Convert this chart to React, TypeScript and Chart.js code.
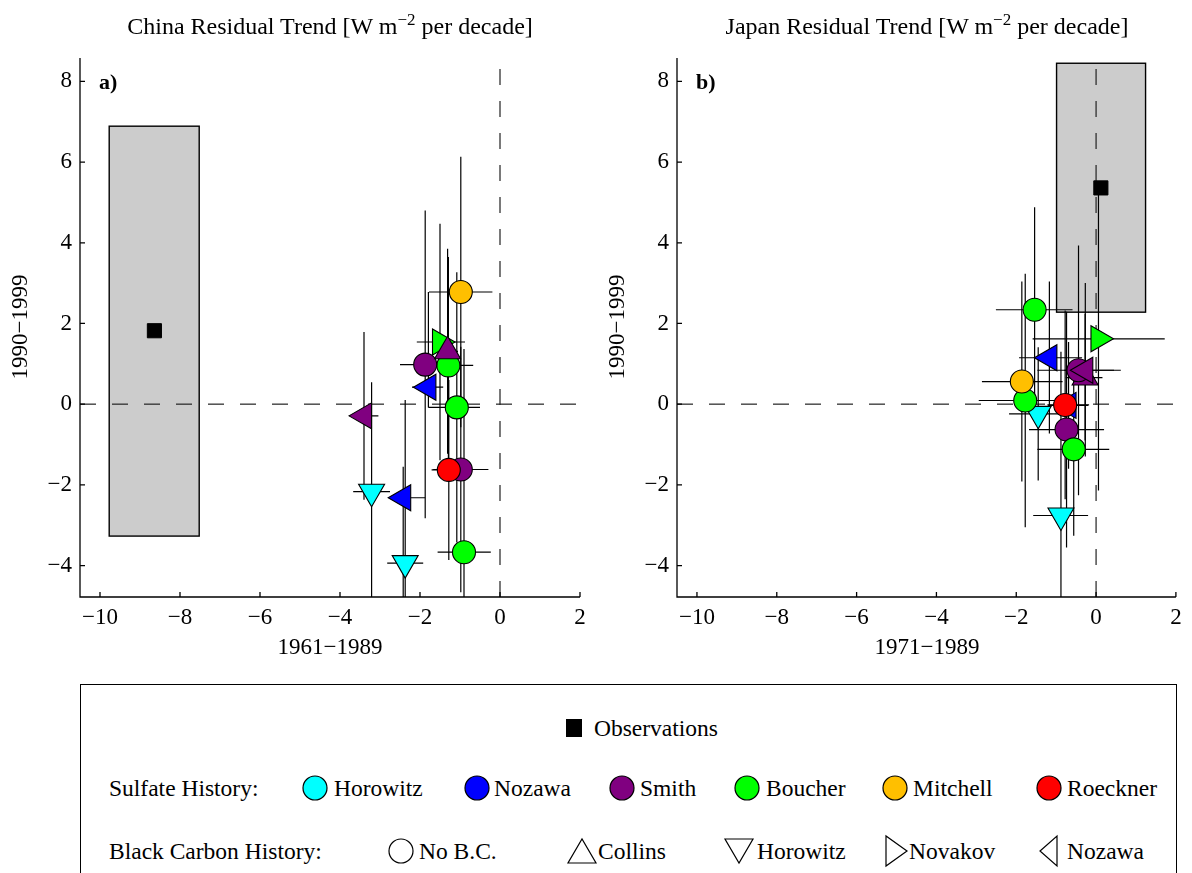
import React, { useEffect, useRef } from 'react';
import { Chart, registerables } from 'chart.js';

Chart.register(...registerables);

const FONT = "'Liberation Serif', 'Times New Roman', Times, serif";

// ---------- axes ----------
const xTickValues = [-10, -8, -6, -4, -2, 0, 2];
const yTickValues = [-4, -2, 0, 2, 4, 6, 8];
const xLimits = [-10.5, 2];
const yLimits = [-4.78, 8.58];

// ---------- legend categories ----------
const sulfateNames = ['Horowitz', 'Nozawa', 'Smith', 'Boucher', 'Mitchell', 'Roeckner'];
const blackCarbonNames = ['No B.C.', 'Collins', 'Horowitz', 'Novakov', 'Nozawa'];

// ---------- China (panel a) ----------
const chinaSulfate = ['Horowitz', 'Horowitz', 'Nozawa', 'Nozawa', 'Smith', 'Boucher', 'Boucher', 'Boucher', 'Boucher', 'Smith', 'Smith', 'Smith', 'Roeckner', 'Mitchell'];
const chinaBC = ['Horowitz', 'Horowitz', 'Nozawa', 'Nozawa', 'Nozawa', 'No B.C.', 'No B.C.', 'No B.C.', 'Novakov', 'No B.C.', 'Collins', 'No B.C.', 'No B.C.', 'No B.C.'];
const chinaX = [-3.21, -2.37, -2.42, -1.79, -3.40, -0.90, -1.08, -1.29, -1.50, -1.87, -1.31, -0.98, -1.28, -0.98];
const chinaY = [-2.17, -3.94, -2.32, 0.42, -0.29, -3.67, -0.08, 0.96, 1.54, 0.98, 1.31, -1.62, -1.63, 2.78];
const chinaXLo = [-3.67, -2.82, -2.75, -2.20, -3.76, -1.56, -1.79, -1.91, -2.08, -2.50, -1.60, -1.67, -1.71, -1.775];
const chinaXHi = [-2.75, -1.92, -1.87, -1.42, -3.04, -0.23, -0.50, -0.67, -0.875, -1.24, -1.05, -0.29, -0.85, -0.19];
const chinaYLo = [-4.90, -8.00, -5.00, -0.08, -2.37, -8.70, -3.43, -1.73, -1.39, -2.83, -1.23, -4.66, -3.86, -0.57];
const chinaYHi = [0.54, 0.10, -1.55, 2.78, 1.79, 1.37, 3.27, 3.65, 4.47, 4.80, 3.85, 1.42, 0.60, 6.13];
const chinaObs = [-8.64, 1.82];
const chinaObsRange = [-9.77, -7.52, -3.27, 6.89]; // xLo, xHi, yLo, yHi

// ---------- Japan (panel b) ----------
const japanSulfate = ['Horowitz', 'Horowitz', 'Nozawa', 'Nozawa', 'Boucher', 'Boucher', 'Mitchell', 'Smith', 'Boucher', 'Roeckner', 'Smith', 'Smith', 'Smith', 'Boucher'];
const japanBC = ['Horowitz', 'Horowitz', 'Nozawa', 'Nozawa', 'No B.C.', 'No B.C.', 'No B.C.', 'No B.C.', 'No B.C.', 'No B.C.', 'Collins', 'No B.C.', 'Nozawa', 'Novakov'];
const japanX = [-0.88, -1.45, -1.17, -0.69, -1.54, -1.775, -1.86, -0.74, -0.56, -0.775, -0.275, -0.44, -0.27, 0.06];
const japanY = [-2.76, -0.24, 1.15, -0.03, 2.34, 0.09, 0.56, -0.63, -1.12, -0.02, 0.66, 0.84, 0.84, 1.62];
const japanXLo = [-1.575, -2.18, -1.93, -1.20, -2.51, -2.94, -2.86, -1.68, -1.47, -1.22, -0.76, -1.47, -0.80, -1.59];
const japanXHi = [-0.20, -0.72, -0.35, -0.20, -0.59, -0.61, -0.84, 0.20, 0.33, -0.175, 0.16, 0.62, 0.45, 1.72];
const japanYLo = [-6.80, -1.89, -0.73, -1.60, -0.20, -3.05, -1.92, -3.55, -3.26, -2.36, -0.90, -2.26, -1.30, -2.14];
const japanYHi = [1.30, 1.41, 3.04, 1.54, 4.88, 3.23, 3.04, 2.29, 1.02, 2.32, 2.24, 3.93, 3.00, 5.40];
const japanObs = [0.12, 5.36];
const japanObsRange = [-0.99, 1.24, 2.28, 8.45];

// ---------- styles ----------
const sulfateColor: Record<string, string> = {
  Horowitz: '#00ffff',
  Nozawa: '#0000ff',
  Smith: '#800080',
  Boucher: '#00ff00',
  Mitchell: '#ffbf00',
  Roeckner: '#ff0000',
};
const bcMarker: Record<string, { style: string; rotation: number; radius: number }> = {
  'No B.C.': { style: 'circle', rotation: 0, radius: 11.5 },
  Collins: { style: 'triangle', rotation: 0, radius: 15 },
  Horowitz: { style: 'triangle', rotation: 180, radius: 15 },
  Novakov: { style: 'triangle', rotation: 90, radius: 15 },
  Nozawa: { style: 'triangle', rotation: 270, radius: 15 },
};

type PanelData = {
  sulfate: string[]; bc: string[]; x: number[]; y: number[];
  xLo: number[]; xHi: number[]; yLo: number[]; yHi: number[];
  obs: number[]; obsRange: number[];
};

const china: PanelData = { sulfate: chinaSulfate, bc: chinaBC, x: chinaX, y: chinaY, xLo: chinaXLo, xHi: chinaXHi, yLo: chinaYLo, yHi: chinaYHi, obs: chinaObs, obsRange: chinaObsRange };
const japan: PanelData = { sulfate: japanSulfate, bc: japanBC, x: japanX, y: japanY, xLo: japanXLo, xHi: japanXHi, yLo: japanYLo, yHi: japanYHi, obs: japanObs, obsRange: japanObsRange };

const fmt = (v: number) => (v < 0 ? '\u2212' + Math.abs(v) : String(v));

function makeConfig(d: PanelData, rightPad: number): any {
  const decor = {
    id: 'decor',
    beforeDatasetsDraw(chart: any) {
      const { ctx, chartArea: a } = chart;
      const sx = chart.scales.x;
      const sy = chart.scales.y;
      ctx.save();
      ctx.beginPath();
      ctx.rect(a.left, a.top, a.right - a.left, a.bottom - a.top);
      ctx.clip();
      // observation range box
      const bx0 = sx.getPixelForValue(d.obsRange[0]);
      const bx1 = sx.getPixelForValue(d.obsRange[1]);
      const by0 = sy.getPixelForValue(d.obsRange[2]);
      const by1 = sy.getPixelForValue(d.obsRange[3]);
      ctx.fillStyle = '#cccccc';
      ctx.fillRect(bx0, by1, bx1 - bx0, by0 - by1);
      ctx.strokeStyle = '#000';
      ctx.lineWidth = 1.4;
      ctx.strokeRect(bx0, by1, bx1 - bx0, by0 - by1);
      // zero lines
      const x0 = sx.getPixelForValue(0);
      const y0 = sy.getPixelForValue(0);
      ctx.setLineDash([16, 16]);
      ctx.strokeStyle = '#222';
      ctx.lineWidth = 1.2;
      ctx.beginPath();
      ctx.moveTo(a.left, y0);
      ctx.lineTo(a.right, y0);
      ctx.stroke();
      ctx.beginPath();
      ctx.moveTo(x0, a.bottom);
      ctx.lineTo(x0, a.top);
      ctx.stroke();
      ctx.setLineDash([]);
      // error bars
      ctx.strokeStyle = '#000';
      ctx.lineWidth = 1.2;
      d.x.forEach((xv, i) => {
        const px = sx.getPixelForValue(xv);
        const py = sy.getPixelForValue(d.y[i]);
        ctx.beginPath();
        ctx.moveTo(sx.getPixelForValue(d.xLo[i]), py);
        ctx.lineTo(sx.getPixelForValue(d.xHi[i]), py);
        ctx.moveTo(px, sy.getPixelForValue(d.yLo[i]));
        ctx.lineTo(px, sy.getPixelForValue(d.yHi[i]));
        ctx.stroke();
      });
      ctx.restore();
    },
    afterDraw(chart: any) {
      const { ctx, chartArea: a } = chart;
      const sx = chart.scales.x;
      const sy = chart.scales.y;
      ctx.save();
      ctx.strokeStyle = '#000';
      ctx.lineWidth = 1.3;
      ctx.beginPath();
      ctx.moveTo(a.left, a.top);
      ctx.lineTo(a.left, a.bottom);
      ctx.lineTo(a.right, a.bottom);
      xTickValues.forEach((v) => {
        const p = sx.getPixelForValue(v);
        ctx.moveTo(p, a.bottom);
        ctx.lineTo(p, a.bottom - 5);
      });
      yTickValues.forEach((v) => {
        const p = sy.getPixelForValue(v);
        ctx.moveTo(a.left, p);
        ctx.lineTo(a.left + 5, p);
      });
      ctx.stroke();
      ctx.restore();
    },
  };

  const tickFont = { family: FONT, size: 23 };

  return {
    type: 'scatter',
    data: {
      datasets: [
        {
          label: 'Observations',
          data: [{ x: d.obs[0], y: d.obs[1] }],
          pointStyle: 'rect',
          pointRadius: 10,
          pointBackgroundColor: '#000',
          pointBorderColor: '#000',
          pointBorderWidth: 1,
        },
        {
          label: 'Models',
          data: d.x.map((xv, i) => ({ x: xv, y: d.y[i] })),
          pointStyle: d.bc.map((b) => bcMarker[b].style),
          pointRotation: d.bc.map((b) => bcMarker[b].rotation),
          pointRadius: d.bc.map((b) => bcMarker[b].radius),
          pointBackgroundColor: d.sulfate.map((s) => sulfateColor[s]),
          pointBorderColor: '#000',
          pointBorderWidth: 1.1,
        },
      ],
    },
    options: {
      animation: false,
      responsive: false,
      maintainAspectRatio: false,
      events: [],
      layout: { padding: { top: 58, right: rightPad, left: 0, bottom: 0 } },
      plugins: { legend: { display: false }, tooltip: { enabled: false }, title: { display: false } },
      scales: {
        x: {
          type: 'linear',
          min: xLimits[0],
          max: xLimits[1],
          grid: { display: false, drawTicks: false },
          border: { display: false },
          afterBuildTicks: (s: any) => { s.ticks = xTickValues.map((value) => ({ value })); },
          afterFit: (s: any) => { s.height = 83; },
          ticks: { autoSkip: false, maxRotation: 0, minRotation: 0, padding: 7, color: '#000', font: tickFont, callback: (v: any) => fmt(Number(v)) },
        },
        y: {
          type: 'linear',
          min: yLimits[0],
          max: yLimits[1],
          grid: { display: false, drawTicks: false },
          border: { display: false },
          afterBuildTicks: (s: any) => { s.ticks = yTickValues.map((value) => ({ value })); },
          afterFit: (s: any) => { s.width = 80; },
          ticks: { autoSkip: false, padding: 8, color: '#000', font: tickFont, callback: (v: any) => fmt(Number(v)) },
        },
      },
    },
    plugins: [decor],
  };
}

function PanelCanvas({ data, left, width, rightPad }: { data: PanelData; left: number; width: number; rightPad: number }) {
  const ref = useRef<HTMLCanvasElement>(null);
  useEffect(() => {
    const chart = new Chart(ref.current as HTMLCanvasElement, makeConfig(data, rightPad));
    return () => chart.destroy();
  }, []);
  return (
    <canvas
      ref={ref}
      width={width}
      height={680}
      style={{ position: 'absolute', left, top: 0, width, height: 680 }}
    />
  );
}

const textBase: React.CSSProperties = {
  position: 'absolute',
  fontFamily: FONT,
  fontSize: 23,
  lineHeight: '26px',
  color: '#000',
  whiteSpace: 'nowrap',
};

function PanelText({ offset, region, period, letter }: { offset: number; region: string; period: string; letter: string }) {
  return (
    <>
      <div style={{ ...textBase, fontSize: 24, left: offset + 80, width: 500, top: 13, textAlign: 'center' }}>
        {region} Residual Trend [W m
        <sup style={{ fontSize: 17, verticalAlign: 'baseline', position: 'relative', top: -9 }}>{'\u22122'}</sup>
        {' '}per decade]
      </div>
      <div style={{ ...textBase, left: offset + 80, width: 500, top: 634, textAlign: 'center' }}>{period}</div>
      <div
        style={{
          ...textBase,
          left: offset + 20 - 100,
          top: 327 - 13,
          width: 200,
          textAlign: 'center',
          transform: 'rotate(-90deg)',
        }}
      >
        {'1990\u22121999'}
      </div>
      <div style={{ ...textBase, left: offset + 99, top: 69, fontWeight: 'bold', fontSize: 22 }}>{letter}</div>
    </>
  );
}

function Shape({ kind, fill, cx, cy }: { kind: string; fill: string; cx: number; cy: number }) {
  const w = 32;
  const h = 34;
  let el: React.ReactNode = null;
  if (kind === 'circle') el = <circle cx={16} cy={17} r={12} fill={fill} stroke="#000" strokeWidth={1.2} />;
  if (kind === 'square') el = <rect x={8} y={8} width={16} height={18} fill="#000" />;
  if (kind === 'Collins') el = <polygon points="2,29 30,29 16,5" fill="none" stroke="#000" strokeWidth={1.2} />;
  if (kind === 'Horowitz') el = <polygon points="2,5 30,5 16,29" fill="none" stroke="#000" strokeWidth={1.2} />;
  if (kind === 'Novakov') el = <polygon points="6,2 6,32 27,17" fill="none" stroke="#000" strokeWidth={1.2} />;
  if (kind === 'Nozawa') el = <polygon points="25,2 25,32 8,17" fill="none" stroke="#000" strokeWidth={1.2} />;
  if (kind === 'No B.C.') el = <circle cx={16} cy={17} r={12} fill="none" stroke="#000" strokeWidth={1.2} />;
  return (
    <svg width={w} height={h} style={{ position: 'absolute', left: cx - w / 2, top: cy - h / 2 }}>
      {el}
    </svg>
  );
}

// legend layout (pixel positions of marker centres / label starts)
const sulfateMarkerX = [315, 477, 622, 747, 895, 1049];
const sulfateTextX = [334, 494, 640, 766, 913, 1067];
const bcMarkerX = [401, 582, 739, 896, 1048];
const bcTextX = [419, 598, 757, 909, 1067];

function LegendBox() {
  const row1 = 728;
  const row2 = 788;
  const row3 = 851;
  const legendText: React.CSSProperties = { ...textBase, fontSize: 23.5, lineHeight: '28px' };
  return (
    <>
      <div
        style={{
          position: 'absolute',
          left: 80,
          top: 684,
          width: 1097,
          height: 260,
          border: '1.5px solid #000',
          boxSizing: 'border-box',
        }}
      />
      <Shape kind="square" fill="#000" cx={574} cy={row1} />
      <div style={{ ...legendText, left: 594, top: row1 - 14 }}>Observations</div>
      <div style={{ ...legendText, left: 109, top: row2 - 14 }}>Sulfate History:</div>
      {sulfateNames.map((n, i) => (
        <React.Fragment key={'s' + n}>
          <Shape kind="circle" fill={sulfateColor[n]} cx={sulfateMarkerX[i]} cy={row2} />
          <div style={{ ...legendText, left: sulfateTextX[i], top: row2 - 14 }}>{n}</div>
        </React.Fragment>
      ))}
      <div style={{ ...legendText, left: 109, top: row3 - 14 }}>Black Carbon History:</div>
      {blackCarbonNames.map((n, i) => (
        <React.Fragment key={'b' + n}>
          <Shape kind={n} fill="none" cx={bcMarkerX[i]} cy={row3} />
          <div style={{ ...legendText, left: bcTextX[i], top: row3 - 14 }}>{n}</div>
        </React.Fragment>
      ))}
    </>
  );
}

export default function App() {
  return (
    <div
      style={{
        position: 'absolute',
        left: 0,
        top: 0,
        width: 1192,
        height: 873,
        overflow: 'hidden',
        background: '#fff',
      }}
    >
      <PanelCanvas data={china} left={0} width={600} rightPad={20} />
      <PanelCanvas data={japan} left={597} width={595} rightPad={15} />
      <PanelText offset={0} region="China" period={'1961\u22121989'} letter="a)" />
      <PanelText offset={597} region="Japan" period={'1971\u22121989'} letter="b)" />
      <LegendBox />
    </div>
  );
}
